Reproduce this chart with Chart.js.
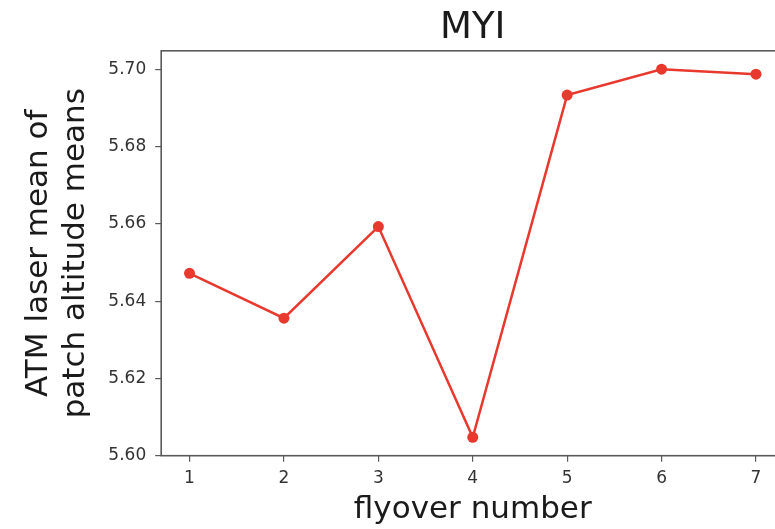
<!DOCTYPE html>
<html>
<head>
<meta charset="utf-8">
<script src="https://cdn.jsdelivr.net/npm/chart.js@4/dist/chart.umd.min.js"></script>
<style>
  html, body { margin: 0; padding: 0; overflow: hidden; background: #ffffff; }
  #wrap { width: 790px; height: 529px; }
</style>
</head>
<body>
<div id="wrap"><canvas id="c" width="790" height="529"></canvas></div>
<script>
// Flyover sequence and the mean ATM laser altitude for each pass
const flyovers = [1, 2, 3, 4, 5, 6, 7];
const altitudeMeans = [5.6472, 5.6356, 5.6593, 5.6048, 5.6933, 5.7000, 5.6987];

// Tick positions and labels
const xTickValues = [1, 2, 3, 4, 5, 6, 7];
const yTickValues = [5.60, 5.62, 5.64, 5.66, 5.68, 5.70];

const chartTitle = 'MYI';
const xTitle = 'flyover number';
const yTitle = ['ATM laser mean of', 'patch altitude means'];

const FONT = "'DejaVu Sans', 'Liberation Sans', sans-serif";
const LINE_RED = '#e8392e';
const SPINE = '#5a5a5a';

// 5% breathing room around the data on both axes
function paddedRange(values, frac) {
  const lo = Math.min(...values), hi = Math.max(...values);
  const m = (hi - lo) * frac;
  return [lo - m, hi + m];
}
const [xMin, xMax] = paddedRange(flyovers, 0.05);
const [yMin, yMax] = paddedRange(altitudeMeans, 0.05);

// Box around the plotting area
const frame = {
  id: 'frame',
  afterDatasetsDraw(chart) {
    const { ctx, chartArea: a } = chart;
    ctx.save();
    ctx.strokeStyle = SPINE;
    ctx.lineWidth = 1.6;
    ctx.strokeRect(a.left, a.top, a.right - a.left, a.bottom - a.top);
    ctx.restore();
  }
};

new Chart(document.getElementById('c'), {
  type: 'line',
  data: {
    datasets: [{
      data: flyovers.map((x, i) => ({ x, y: altitudeMeans[i] })),
      borderColor: LINE_RED,
      backgroundColor: LINE_RED,
      borderWidth: 2.5,
      pointRadius: 5.5,
      pointBorderWidth: 0,
      pointBackgroundColor: LINE_RED,
      tension: 0,
      fill: false
    }]
  },
  options: {
    responsive: false,
    animation: false,
    devicePixelRatio: 1,
    layout: { padding: { left: 0, right: 5.7, top: 0, bottom: 0 } },
    plugins: {
      legend: { display: false },
      tooltip: { enabled: false },
      title: {
        display: true,
        text: chartTitle,
        fullSize: false,
        color: '#1a1a1a',
        font: { family: FONT, size: 37, weight: 'normal' },
        padding: { top: 6.4, bottom: 0 }
      }
    },
    scales: {
      x: {
        type: 'linear',
        min: xMin,
        max: xMax,
        afterBuildTicks(scale) { scale.ticks = xTickValues.map(v => ({ value: v })); },
        afterFit(scale) { scale.height = 73.3; },
        ticks: {
          color: '#333333',
          font: { family: FONT, size: 17 },
          padding: 7,
          maxRotation: 0,
          callback: v => String(v)
        },
        grid: { drawOnChartArea: false, drawTicks: true, tickLength: 6, color: SPINE, lineWidth: 1.2 },
        border: { display: false },
        title: {
          display: true,
          text: xTitle,
          color: '#1a1a1a',
          font: { family: FONT, size: 31 },
          padding: { top: 0, bottom: 0 }
        }
      },
      y: {
        type: 'linear',
        min: yMin,
        max: yMax,
        afterBuildTicks(scale) { scale.ticks = yTickValues.map(v => ({ value: v })); },
        afterFit(scale) { scale.width = 161.2; },
        ticks: {
          color: '#333333',
          font: { family: FONT, size: 17 },
          padding: 9,
          callback: v => Number(v).toFixed(2)
        },
        grid: { drawOnChartArea: false, drawTicks: true, tickLength: 6, color: SPINE, lineWidth: 1.2 },
        border: { display: false },
        title: {
          display: true,
          text: yTitle,
          color: '#1a1a1a',
          font: { family: FONT, size: 31 },
          padding: { top: 20, bottom: 0 }
        }
      }
    }
  },
  plugins: [frame]
});
</script>
</body>
</html>
